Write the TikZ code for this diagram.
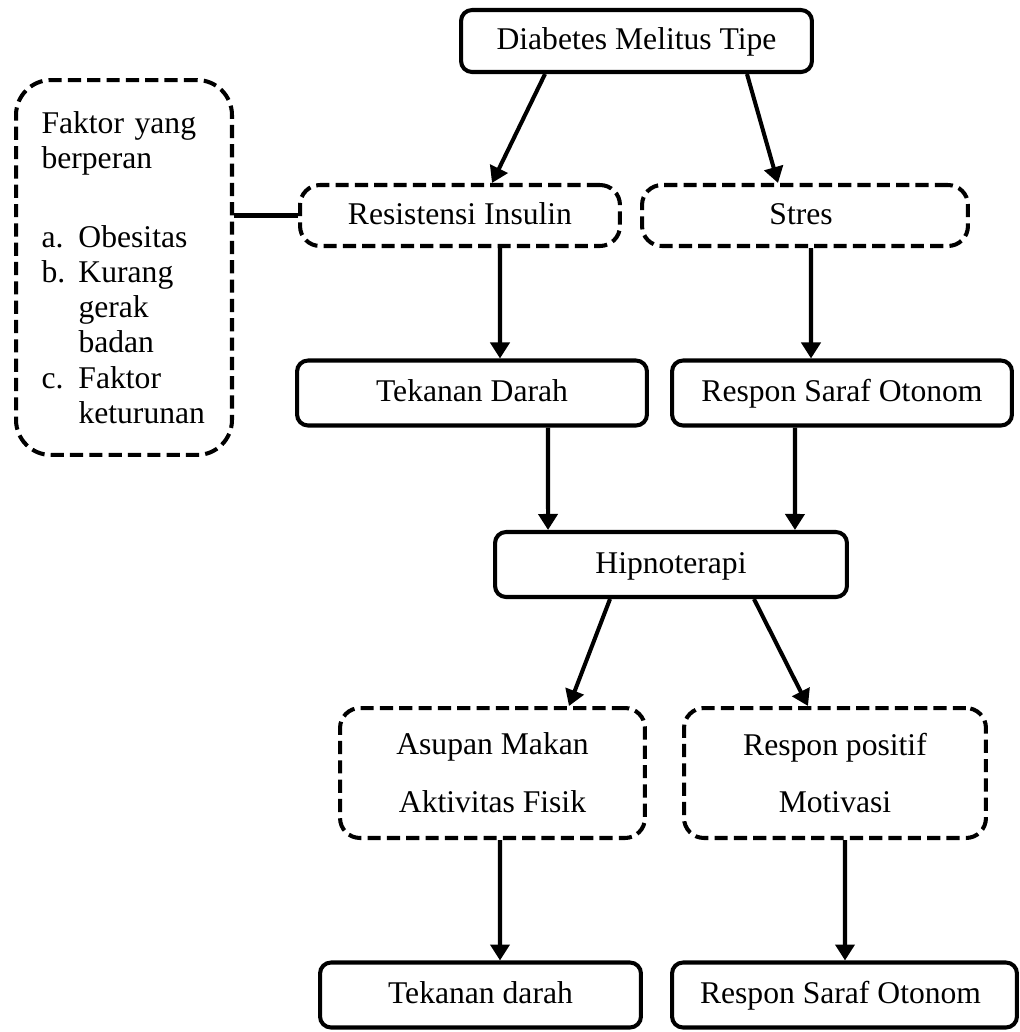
\documentclass[tikz,border=0pt]{standalone}
\usepackage{fontspec}
\setmainfont{Liberation Serif}
\usetikzlibrary{arrows.meta}

\begin{document}
\begin{tikzpicture}[x=0.02cm, y=-0.02cm,
	every node/.style={font=\fontsize{18pt}{20pt}\selectfont},
	solidbox/.style={draw, line width=2.3pt, rounded corners=0.22cm, align=center, inner sep=0pt, minimum height=1.3cm},
	oneline/.style={text height=13pt, text depth=3pt},
	dashbox/.style={solidbox, dash pattern=on 7.5pt off 3.5pt, rounded corners=0.4cm},
	arr/.style={line width=2.3pt, -{Triangle[width=0.38cm,length=0.32cm]}}]
	\useasboundingbox (0,0) rectangle (1019,1032);

	\node [solidbox, oneline, minimum width=7.02cm, minimum height=1.24cm] (dm) at (636.5,41) {Diabetes Melitus Tipe};

	\node [dashbox, rounded corners=0.7cm, minimum width=4.32cm, minimum height=7.5cm, text width=3.3cm, align=left] (faktor) at (124,267.5) {
		Faktor yang\\
		berperan\\[25pt]
		\makebox[0.74cm][l]{a.}Obesitas\\
		\makebox[0.74cm][l]{b.}Kurang\\
		\hspace*{0.74cm}gerak\\
		\hspace*{0.74cm}badan\\
		\makebox[0.74cm][l]{c.}Faktor\\
		\hspace*{0.74cm}keturunan};

	\foreach \x/\y/\w/\name/\txt in {
		460/215.5/6.4/ri/Resistensi Insulin,
		805/215.5/6.52/st/Stres
	}
	{
		\node [dashbox, oneline, minimum width=\w cm, minimum height=1.22cm] (\name) at (\x,\y) {\txt};
	}

	\foreach \x/\y/\w/\name/\txt in {
		472/393/7/td/Tekanan Darah,
		842/393/6.8/rso/Respon Saraf Otonom,
		671/564.5/7.04/hip/Hipnoterapi,
		480.5/995/6.42/tdb/Tekanan darah,
		844.5/995/6.9/rsb/Respon Saraf Otonom
	}
	{
		\node [solidbox, oneline, minimum width=\w cm] (\name) at (\x,\y) {\txt};
	}

	\node [dashbox, minimum width=6.1cm, minimum height=2.6cm] (am) at (492.5,773) {Asupan Makan\\[13pt]Aktivitas Fisik};
	\node [dashbox, minimum width=6.04cm, minimum height=2.6cm] (rp) at (835,773) {Respon positif\\[13pt]Motivasi};

	\draw [line width=2.3pt] (faktor.east |- ri.west) -- (ri.west);

	\foreach \a/\sa/\b/\sb in {
		dm/-1.83/ri/0.64,
		dm/2.21/st/-0.54,
		ri/0.8/td/0.56,
		st/0.12/rso/-0.62,
		td/1.52/hip/-2.46,
		rso/-0.94/hip/2.48,
		hip/-1.22/am/1.53,
		hip/1.66/rp/-0.54,
		am/0.15/tdb/0.39,
		rp/0.2/rsb/0.01
	}
	{
		\draw [arr] ([xshift=\sa cm]\a.south) -- ([xshift=\sb cm]\b.north);
	}
\end{tikzpicture}
\end{document}
